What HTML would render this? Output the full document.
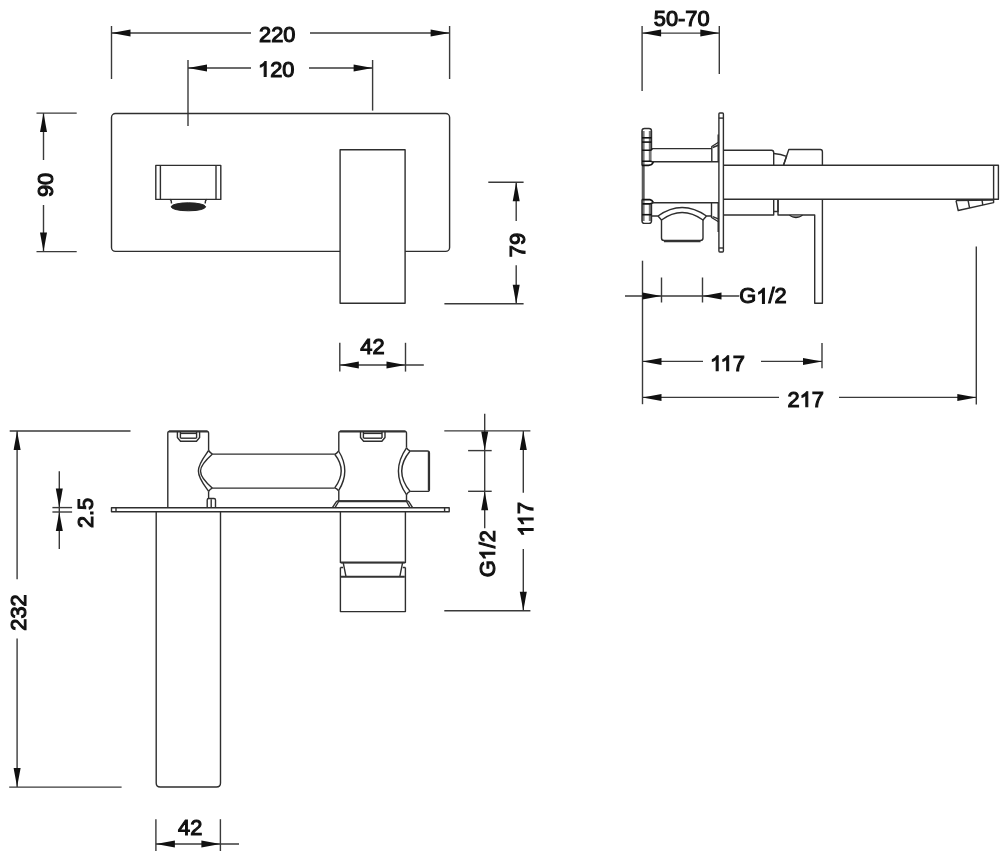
<!DOCTYPE html>
<html><head><meta charset="utf-8"><title>Faucet drawing</title>
<style>
html,body{margin:0;padding:0;background:#fff;}
body{width:1000px;height:853px;overflow:hidden;}
svg{display:block;will-change:transform;}
text{font-family:"Liberation Sans",sans-serif;font-weight:normal;font-size:21.8px;fill:#111;stroke:#111;stroke-width:1.1;text-anchor:middle;}
.d{stroke:#3a3a3a;stroke-width:1.4;fill:none;}
.o{stroke:#2e2e2e;stroke-width:1.4;fill:none;stroke-linejoin:round;}
.t{stroke:#333;stroke-width:2;fill:none;}
.a{fill:#111;stroke:none;}
.g{stroke:#777;stroke-width:2.8;fill:none;}
.k{stroke:#111;stroke-width:1.6;fill:none;}
.h{fill-opacity:0;stroke-opacity:0;}
.one{fill:#111;stroke:#111;stroke-width:1.1;vector-effect:non-scaling-stroke;}
.f{fill:#222;stroke:#222;stroke-width:1;}
</style></head>
<body>
<svg width="1000" height="853" viewBox="0 0 1000 853">
<rect width="1000" height="853" fill="#fff"/>
<line class="d" x1="111.5" y1="26" x2="111.5" y2="79"/>
<line class="d" x1="449.6" y1="26" x2="449.6" y2="79"/>
<line class="d" x1="111.5" y1="33" x2="251" y2="33"/>
<line class="d" x1="310" y1="33" x2="449.6" y2="33"/>
<path class="a" d="M111.5 33.0L130.5 29.5L130.5 36.5Z"/>
<path class="a" d="M449.6 33.0L430.6 36.5L430.6 29.5Z"/>
<text id="t0" transform="translate(277.3 41.9)">220</text>
<line class="d" x1="188" y1="60" x2="188" y2="126"/>
<line class="d" x1="372.6" y1="60" x2="372.6" y2="110.6"/>
<line class="d" x1="188" y1="68" x2="251" y2="68"/>
<line class="d" x1="309" y1="68" x2="372.6" y2="68"/>
<path class="a" d="M188.0 68.0L207.0 64.5L207.0 71.5Z"/>
<path class="a" d="M372.6 68.0L353.6 71.5L353.6 64.5Z"/>
<text id="t1" transform="translate(276.2 76.5)"><tspan class="h">1</tspan>20</text>
<path class="one" transform="translate(276.2 76.5) translate(-18.19 0.00) scale(0.010645 -0.010645)" d="M763 0H583V1098Q500 1020 360 945Q280 905 222 890V1057Q350 1115 470 1215Q590 1320 646 1409H763Z"/>
<path class="o" d="M340.1 251.4H115.5A4 4 0 0 1 111.5 247.4V117.5A4 4 0 0 1 115.5 113.5H445.6A4 4 0 0 1 449.6 117.5V247.4A4 4 0 0 1 445.6 251.4H405.1"/>
<path class="o" d="M155.8 165.4H220.8V199.4H155.8Z"/>
<line class="o" x1="160.4" y1="165.4" x2="160.4" y2="199.4"/>
<line class="o" x1="216" y1="165.4" x2="216" y2="199.4"/>
<path class="o" d="M170 199.4Q171.5 200 171.5 203.5M206.8 199.4Q205.2 200 205.2 203.5"/>
<ellipse class="f" cx="188.4" cy="206.8" rx="17.2" ry="4"/>
<path class="o" d="M340.1 149.8H405.1V303.3H340.1Z"/>
<line class="d" x1="36.5" y1="113.1" x2="76.7" y2="113.1"/>
<line class="d" x1="36.5" y1="251.6" x2="76.7" y2="251.6"/>
<line class="d" x1="43.5" y1="113.1" x2="43.5" y2="160"/>
<line class="d" x1="43.5" y1="205" x2="43.5" y2="251.6"/>
<path class="a" d="M43.5 113.1L47.0 132.1L40.0 132.1Z"/>
<path class="a" d="M43.5 251.6L40.0 232.6L47.0 232.6Z"/>
<text id="t2" transform="translate(52.7 184.95) rotate(-90)">90</text>
<line class="d" x1="488.3" y1="182.3" x2="523.6" y2="182.3"/>
<line class="d" x1="444.4" y1="303.8" x2="523.6" y2="303.8"/>
<line class="d" x1="516.2" y1="182.3" x2="516.2" y2="221"/>
<line class="d" x1="516.2" y1="265.2" x2="516.2" y2="303.8"/>
<path class="a" d="M516.2 182.3L519.7 201.3L512.7 201.3Z"/>
<path class="a" d="M516.2 303.8L512.7 284.8L519.7 284.8Z"/>
<text id="t3" transform="translate(525.0 245.1) rotate(-90)">79</text>
<line class="d" x1="339.8" y1="342.8" x2="339.8" y2="371.6"/>
<line class="d" x1="405.5" y1="342.8" x2="405.5" y2="371.6"/>
<line class="d" x1="339.8" y1="365" x2="423.8" y2="365"/>
<path class="a" d="M339.8 365.0L358.8 361.5L358.8 368.5Z"/>
<path class="a" d="M405.5 365.0L386.5 368.5L386.5 361.5Z"/>
<text id="t4" transform="translate(372.4 353.8)">42</text>
<line class="d" x1="642.1" y1="26" x2="642.1" y2="90.9"/>
<line class="d" x1="719.3" y1="26" x2="719.3" y2="74.1"/>
<line class="d" x1="642.1" y1="33.1" x2="719.3" y2="33.1"/>
<path class="a" d="M642.1 33.1L661.1 29.6L661.1 36.6Z"/>
<path class="a" d="M719.3 33.1L700.3 36.6L700.3 29.6Z"/>
<text id="t5" transform="translate(681.7 26.4)">50-70</text>
<path class="o" d="M719.8 113H722.5Q723.4 113 723.4 114V251Q723.4 252 722.5 252H719.8Q718.9 252 718.9 251V114Q718.9 113 719.8 113Z"/>
<line class="o" x1="718.9" y1="118.1" x2="723.4" y2="118.1"/>
<line class="o" x1="718.9" y1="248" x2="723.4" y2="248"/>
<line x1="643.2" y1="165" x2="643.2" y2="200" style="stroke:#5a5a5a;stroke-width:3"/>
<path class="g" d="M643.2 165.4V131M650.2 131V161.5M643.2 199.5V221M650.2 204V221"/>
<path class="o" d="M642 165.4V131Q642 128.5 644.5 128.5H649Q651.5 128.5 651.5 131V150.2"/>
<line class="k" x1="642" y1="137.8" x2="651.5" y2="137.8"/>
<line class="k" x1="642" y1="142.1" x2="651.5" y2="142.1"/>
<path class="k" d="M642 150.2H650.3Q651.3 150.2 652.3 148.6"/>
<path class="k" d="M642 161.2H650.3Q652.5 161.5 653.3 162.3Q652 165.4 648.5 165.4H642"/>
<path class="k" d="M642 199.6H650Q652 199.8 653.3 202.4Q651.5 203.9 649.5 203.9H642"/>
<path class="o" d="M642 199.6V221Q642 223.4 644.5 223.4H649Q651.5 223.4 651.5 221V204"/>
<line class="k" x1="642" y1="214.7" x2="651.5" y2="214.7"/>
<line class="o" x1="651.6" y1="148.6" x2="711.8" y2="148.6"/>
<line class="o" x1="651.6" y1="161.8" x2="718.9" y2="161.8"/>
<path class="o" d="M711.8 162V146.5L718.9 142"/>
<path class="o" d="M712.7 147.5L718.9 145"/>
<line class="o" x1="718.2" y1="134.5" x2="718.2" y2="162"/>
<line class="o" x1="651.6" y1="202.8" x2="718.9" y2="202.8"/>
<path class="o" d="M651.6 216H658Q682 199 706.5 216H711.5"/>
<path class="o" d="M658 216L661.5 220Q682 205 703 220L706.5 216"/>
<path class="o" d="M661.5 220V238Q661.5 240.5 664 240.5H700.5Q703 240.5 703 238V220"/>
<line class="t" x1="664" y1="241.2" x2="700.5" y2="241.2"/>
<path class="o" d="M711.5 203V217.5L718.9 222"/>
<path class="o" d="M712.6 216.6L718.9 219.2"/>
<line class="o" x1="718.2" y1="203" x2="718.2" y2="232"/>
<path class="o" d="M723.4 150.2H771.5Q773.7 150.2 773.7 152.5V165.3"/>
<path class="o" d="M773.7 153.5Q781 154 786.5 156.3L783.5 165.3"/>
<path class="o" d="M783.5 165.3L788.8 149.5H820.4Q822.4 149.5 822.4 151.8V165.3"/>
<path class="o" d="M723.4 165.3H998.4V199.3H723.4"/>
<line class="o" x1="993.6" y1="165.3" x2="993.6" y2="199.3"/>
<path class="o" d="M956 200.6L958.2 210.5L993.6 202.6V199.5"/>
<line class="o" x1="956" y1="200.6" x2="993.6" y2="200.1"/>
<line class="o" x1="968" y1="200.2" x2="969.6" y2="208"/>
<line class="o" x1="982" y1="199.8" x2="982.8" y2="205.2"/>
<path class="o" d="M723.4 215H773.7V199.3"/>
<path class="o" d="M773.7 211.5H778V199.3"/>
<path class="o" d="M778 199.3V215H814.7V303.2H822.4V199.3"/>
<path d="M789.5 215.3Q796 220 802.5 215.3" style="fill:#888;stroke:#222;stroke-width:1.3"/>
<line class="d" x1="642.5" y1="260.7" x2="642.5" y2="404.2"/>
<line class="d" x1="661.5" y1="277.5" x2="661.5" y2="302.5"/>
<line class="d" x1="702.5" y1="277.5" x2="702.5" y2="302.5"/>
<line class="d" x1="625" y1="296" x2="739.2" y2="296"/>
<path class="a" d="M661.5 296.0L642.5 299.5L642.5 292.5Z"/>
<path class="a" d="M702.5 296.0L721.5 292.5L721.5 299.5Z"/>
<text id="t6" transform="translate(739.3 303.4)" style="text-anchor:start">G<tspan class="h">1</tspan>/2</text>
<path class="one" transform="translate(739.3 303.4) translate(16.97 0.00) scale(0.010645 -0.010645)" d="M763 0H583V1098Q500 1020 360 945Q280 905 222 890V1057Q350 1115 470 1215Q590 1320 646 1409H763Z"/>
<line class="d" x1="822" y1="343" x2="822" y2="368.3"/>
<line class="d" x1="642.5" y1="361.4" x2="703" y2="361.4"/>
<line class="d" x1="761" y1="361.4" x2="822" y2="361.4"/>
<path class="a" d="M642.5 361.4L661.5 357.9L661.5 364.9Z"/>
<path class="a" d="M822.0 361.4L803.0 364.9L803.0 357.9Z"/>
<text id="t7" transform="translate(727.4 370.8)"><tspan class="h">1</tspan><tspan class="h">1</tspan>7</text>
<path class="one" transform="translate(727.4 370.8) translate(-17.38 0.00) scale(0.010645 -0.010645)" d="M763 0H583V1098Q500 1020 360 945Q280 905 222 890V1057Q350 1115 470 1215Q590 1320 646 1409H763Z"/>
<path class="one" transform="translate(727.4 370.8) translate(-6.87 0.00) scale(0.010645 -0.010645)" d="M763 0H583V1098Q500 1020 360 945Q280 905 222 890V1057Q350 1115 470 1215Q590 1320 646 1409H763Z"/>
<line class="d" x1="976.3" y1="246.4" x2="976.3" y2="404.4"/>
<line class="d" x1="642.5" y1="397.4" x2="779" y2="397.4"/>
<line class="d" x1="839" y1="397.4" x2="976.3" y2="397.4"/>
<path class="a" d="M642.5 397.4L661.5 393.9L661.5 400.9Z"/>
<path class="a" d="M976.3 397.4L957.3 400.9L957.3 393.9Z"/>
<text id="t8" transform="translate(805.7 406.7)">2<tspan class="h">1</tspan>7</text>
<path class="one" transform="translate(805.7 406.7) translate(-6.06 0.00) scale(0.010645 -0.010645)" d="M763 0H583V1098Q500 1020 360 945Q280 905 222 890V1057Q350 1115 470 1215Q590 1320 646 1409H763Z"/>
<line class="d" x1="9.7" y1="431" x2="130.5" y2="431"/>
<line class="d" x1="9.2" y1="787.1" x2="121.6" y2="787.1"/>
<line class="d" x1="17.1" y1="431" x2="17.1" y2="579.3"/>
<line class="d" x1="17.1" y1="638.5" x2="17.1" y2="787.1"/>
<path class="a" d="M17.1 431.0L20.6 450.0L13.6 450.0Z"/>
<path class="a" d="M17.1 787.1L13.6 768.1L20.6 768.1Z"/>
<text id="t9" transform="translate(26.4 612.5) rotate(-90)">232</text>
<line class="d" x1="59.3" y1="471.2" x2="59.3" y2="549"/>
<line class="d" x1="52.4" y1="507.6" x2="72.1" y2="507.6"/>
<line class="d" x1="52.4" y1="512" x2="72.1" y2="512"/>
<path class="a" d="M59.3 507.6L55.8 488.6L62.8 488.6Z"/>
<path class="a" d="M59.3 512.0L62.8 531.0L55.8 531.0Z"/>
<text id="t10" transform="translate(92.6 512.9) rotate(-90)">2.5</text>
<path class="o" d="M111.5 507.7H449.2V511.8H111.5Z"/>
<line class="o" x1="116" y1="507.7" x2="116" y2="511.8"/>
<line class="o" x1="444.6" y1="507.7" x2="444.6" y2="511.8"/>
<path class="o" d="M167.8 507.7V433.2Q167.8 431.2 169.8 431.2H206.6Q208.6 431.2 208.6 433.2V450.5"/>
<line class="t" x1="169" y1="431.6" x2="207.5" y2="431.6"/>
<path class="o" d="M208.6 450.5C204.5 456.5 198.4 463.5 198.4 471C198.4 478.5 204.5 485.5 208.6 491.3"/>
<path class="o" d="M212.5 454.1C207 459 200.5 465 200.5 471C200.5 477 207 483.5 212.5 488.2"/>
<path class="o" d="M208.6 450.5Q210.3 453 212.5 454.1M208.6 491.3Q210.3 489 212.5 488.2"/>
<path class="o" d="M208.6 491.3V498.8"/>
<path class="o" d="M177.4 431.2V437.5L180.5 441.2H196.5L199.6 437.5V431.2"/>
<path class="o" d="M180.4 431.8V438M196.6 431.8V438"/>
<line class="o" x1="180.4" y1="433.4" x2="196.6" y2="433.4"/>
<line class="o" x1="180.4" y1="438.2" x2="196.6" y2="438.2"/>
<line class="o" x1="212.5" y1="454.1" x2="334.7" y2="454.1"/>
<line class="o" x1="212.5" y1="488.1" x2="334.7" y2="488.1"/>
<path class="o" d="M338.6 451Q351 470.8 338.6 490.7"/>
<path class="o" d="M334.7 454.3Q347.7 470.8 334.7 487.9"/>
<path class="o" d="M338.6 451Q336.8 453.5 334.7 454.3M338.6 490.7Q336.8 488.5 334.7 487.9"/>
<path class="o" d="M338.8 500.8V490.7M338.8 451V433.2Q338.8 431.1 341 431.1H404.3Q406.5 431.1 406.5 433.2V447.8M406.5 494.6V500.8"/>
<line class="t" x1="340" y1="431.6" x2="405.5" y2="431.6"/>
<path class="o" d="M360.5 431.1V437.5L363.6 441.2H381.9L385 437.5V431.1"/>
<path class="o" d="M363.4 431.8V438M382 431.8V438"/>
<line class="o" x1="363.4" y1="433.4" x2="382" y2="433.4"/>
<line class="o" x1="363.4" y1="438.2" x2="382" y2="438.2"/>
<path class="o" d="M406.5 447.8Q390.3 471.2 406.5 494.6"/>
<path class="o" d="M410.1 451Q393.3 471.2 410.1 491.4"/>
<path class="o" d="M406.5 447.8Q408 450.3 410.1 451M406.5 494.6Q408 492.2 410.1 491.4"/>
<path class="o" d="M410.1 451H427.4Q429.4 451 429.4 453V489.4Q429.4 491.4 427.4 491.4H410.1"/>
<line class="t" x1="428.8" y1="452" x2="428.8" y2="490.4"/>
<path class="o" d="M332.4 507.6L336.4 501.6Q337 500.9 338 500.9H407.2Q408.2 500.9 408.8 501.6L412.6 507.6"/>
<path class="o" d="M335 507.6L338.4 502M410 507.6L406.8 502"/>
<line class="t" x1="337.5" y1="501.3" x2="407.5" y2="501.3"/>
<path class="o" d="M207.2 507.6V500Q207.2 498.5 208.7 498.5H214Q215.5 498.5 215.5 500V507.6"/>
<line class="o" x1="211.2" y1="499.2" x2="211.2" y2="507.4"/>
<path class="o" d="M156.2 511.8V783Q156.2 787 160.2 787H216.5Q220.5 787 220.5 783V511.8"/>
<path class="o" d="M340.4 511.8V562.6H405.4V511.8"/>
<line class="t" x1="341" y1="562.6" x2="404.8" y2="562.6"/>
<path class="o" d="M343.2 562.6L346 576.7M402.6 562.6L399.8 576.7"/>
<path class="o" d="M340.4 567.5V611.6H405.4V567.5"/>
<path class="o" d="M340.4 567.5H343M405.4 567.5H402.8"/>
<line class="t" x1="341" y1="576.7" x2="404.8" y2="576.7"/>
<line class="d" x1="444.3" y1="430.9" x2="530.4" y2="430.9"/>
<line class="d" x1="444.3" y1="610.8" x2="530.4" y2="610.8"/>
<line class="d" x1="484.7" y1="413.8" x2="484.7" y2="528.2"/>
<line class="d" x1="468.1" y1="450.6" x2="491.7" y2="450.6"/>
<line class="d" x1="468.1" y1="491.3" x2="491.7" y2="491.3"/>
<path class="a" d="M484.7 450.6L481.2 431.6L488.2 431.6Z"/>
<path class="a" d="M484.7 491.3L488.2 510.3L481.2 510.3Z"/>
<text id="t11" transform="translate(494.8 553.7) rotate(-90)">G<tspan class="h">1</tspan>/2</text>
<path class="one" transform="translate(494.8 553.7) rotate(-90) translate(-6.67 0.00) scale(0.010645 -0.010645)" d="M763 0H583V1098Q500 1020 360 945Q280 905 222 890V1057Q350 1115 470 1215Q590 1320 646 1409H763Z"/>
<line class="d" x1="523.3" y1="430.9" x2="523.3" y2="492.7"/>
<line class="d" x1="523.3" y1="549" x2="523.3" y2="610.8"/>
<path class="a" d="M523.3 430.9L526.8 449.9L519.8 449.9Z"/>
<path class="a" d="M523.3 610.8L519.8 591.8L526.8 591.8Z"/>
<text id="t12" transform="translate(533.1 519.2) rotate(-90)"><tspan class="h">1</tspan><tspan class="h">1</tspan>7</text>
<path class="one" transform="translate(533.1 519.2) rotate(-90) translate(-17.38 0.00) scale(0.010645 -0.010645)" d="M763 0H583V1098Q500 1020 360 945Q280 905 222 890V1057Q350 1115 470 1215Q590 1320 646 1409H763Z"/>
<path class="one" transform="translate(533.1 519.2) rotate(-90) translate(-6.87 0.00) scale(0.010645 -0.010645)" d="M763 0H583V1098Q500 1020 360 945Q280 905 222 890V1057Q350 1115 470 1215Q590 1320 646 1409H763Z"/>
<line class="d" x1="155.9" y1="819.2" x2="155.9" y2="851"/>
<line class="d" x1="220.4" y1="819.2" x2="220.4" y2="851"/>
<line class="d" x1="155.9" y1="844" x2="239" y2="844"/>
<path class="a" d="M155.9 844.0L174.9 840.5L174.9 847.5Z"/>
<path class="a" d="M220.4 844.0L201.4 847.5L201.4 840.5Z"/>
<text id="t13" transform="translate(190.2 835.4)">42</text>
</svg>
</body></html>
